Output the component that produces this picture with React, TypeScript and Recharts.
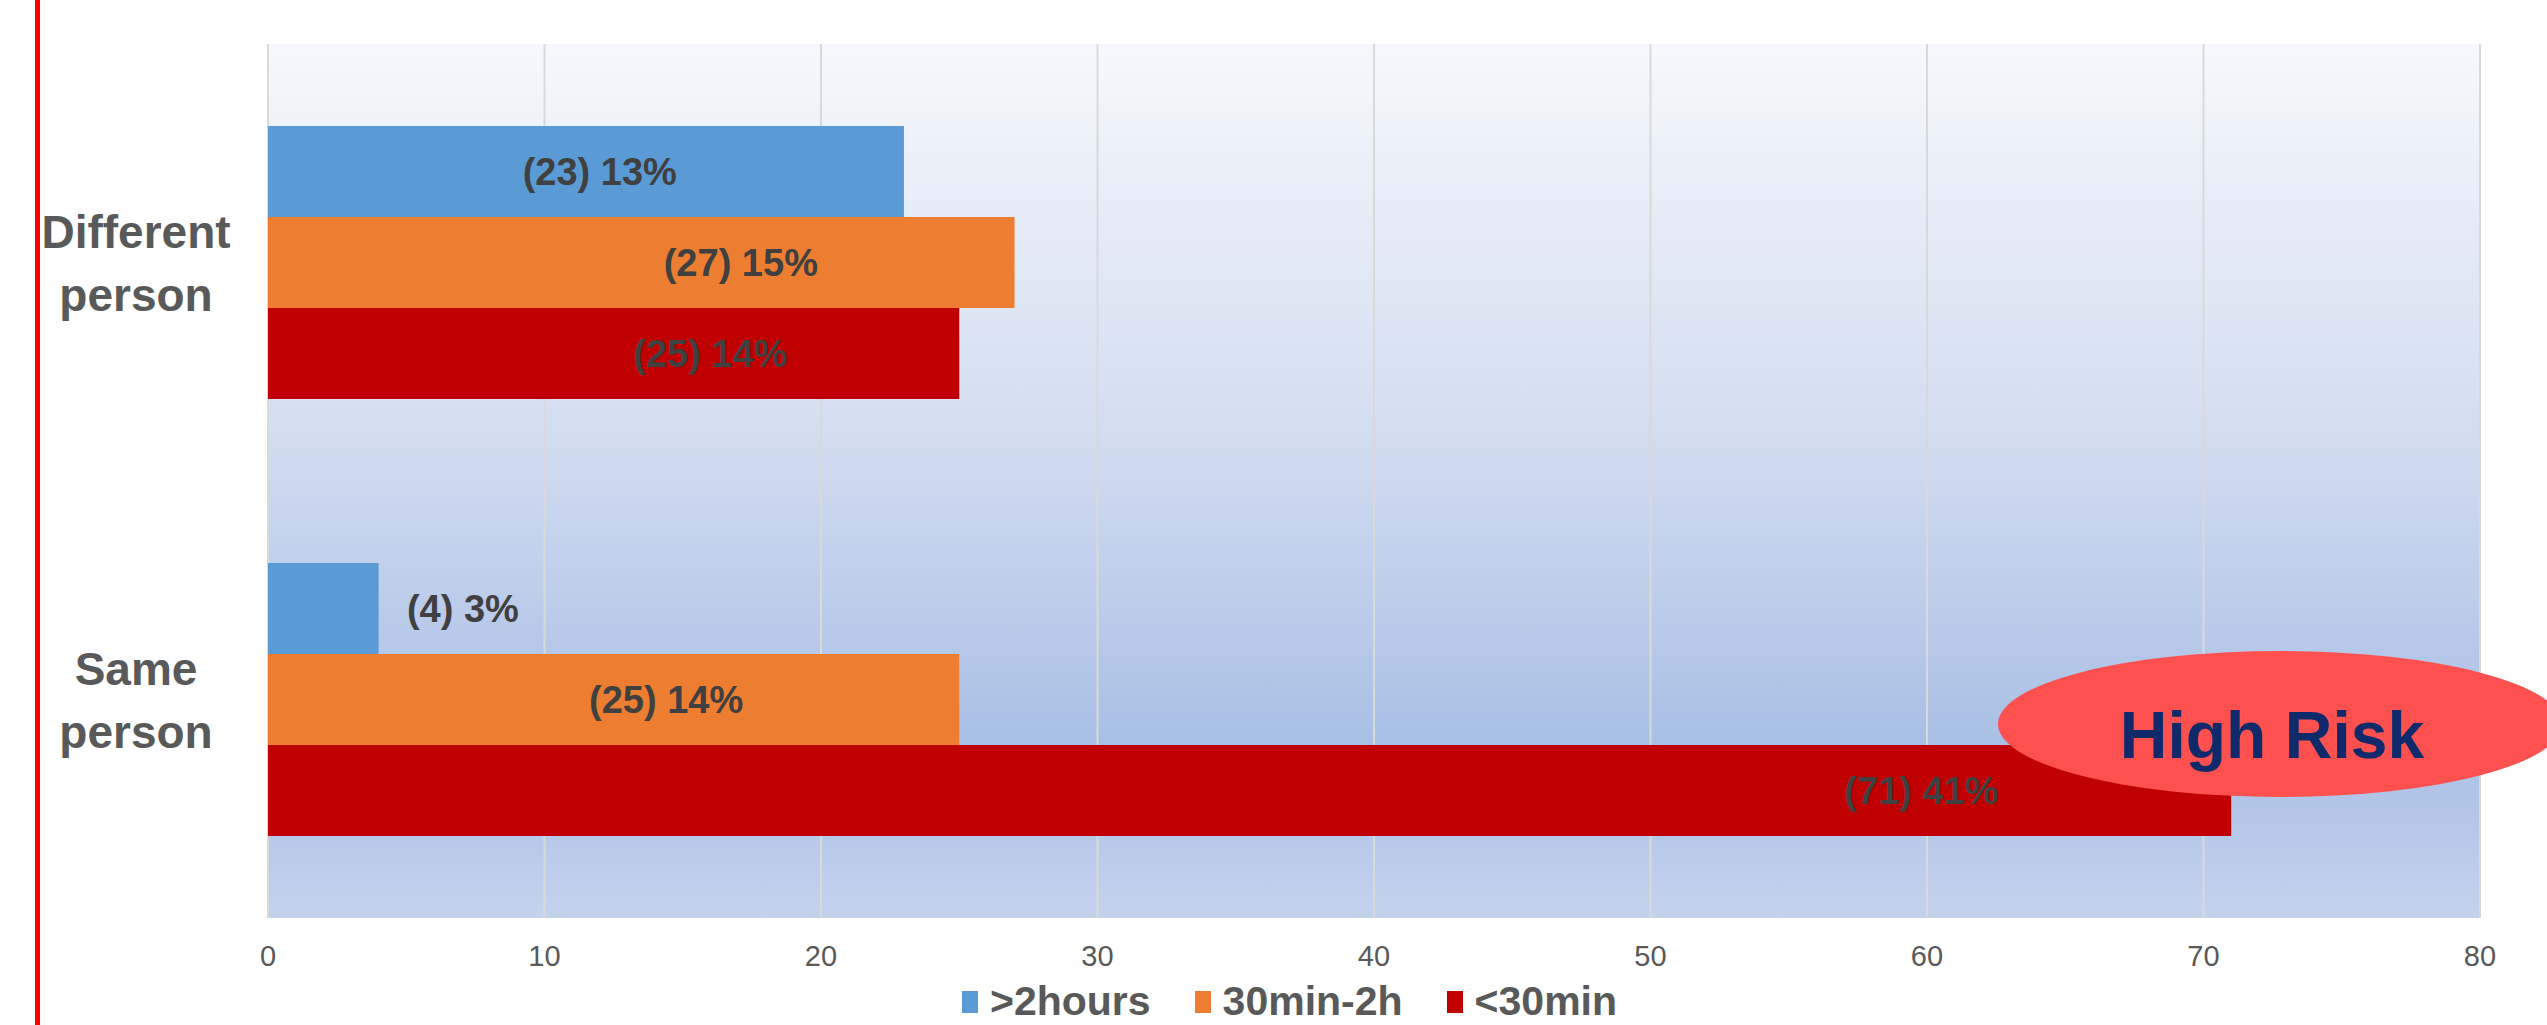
import React from "react";
import {
  BarChart,
  Bar,
  XAxis,
  YAxis,
  CartesianGrid,
  Legend,
  LabelList,
} from "recharts";

// Categories and series values
const categories = ["Different person", "Same person"];
const over2hCount = [23, 4];
const over2hPct = [13, 3];
const midCount = [27, 25];
const midPct = [15, 14];
const under30Count = [25, 71];
const under30Pct = [14, 41];
const xTicks = [0, 10, 20, 30, 40, 50, 60, 70, 80];

// Where each label sits, in axis units (they were moved by hand in the original)
const over2hLabelAt = [12.0, 7.05];
const midLabelAt = [17.1, 14.4];
const under30LabelAt = [16.0, 59.8];

const SERIES = [
  { key: "over2h", name: ">2hours", color: "#5b9bd5", pct: over2hPct, at: over2hLabelAt },
  { key: "mid", name: "30min-2h", color: "#ed7d31", pct: midPct, at: midLabelAt },
  { key: "under30", name: "<30min", color: "#c00000", pct: under30Pct, at: under30LabelAt },
];

const data = categories.map((name, i) => ({
  name,
  over2h: over2hCount[i],
  mid: midCount[i],
  under30: under30Count[i],
}));

const TEXT = "#595959";
const SANS = "'Liberation Sans', Arial, sans-serif";

const makeLabel = (pct: number[], at: number[]) => (props: any) => {
  const { x, y, width, height, index, value } = props;
  if (!value) return null;
  const cx = x + (at[index] * width) / value;
  return (
    <text
      x={cx}
      y={y + height / 2}
      textAnchor="middle"
      dominantBaseline="central"
      fill="#404040"
      fontFamily={SANS}
      fontWeight="bold"
      fontSize={38}
    >
      ({value}) {pct[index]}%
    </text>
  );
};

const CategoryTick = (props: any) => {
  const { y, payload } = props;
  const lines = String(payload.value).split(" ");
  return (
    <text
      textAnchor="middle"
      fill={TEXT}
      fontFamily={SANS}
      fontWeight="bold"
      fontSize={46}
      dominantBaseline="central"
    >
      {lines.map((l, i) => (
        <tspan key={i} x={136} y={y + (i === 0 ? -31 : 32)}>
          {l}
        </tspan>
      ))}
    </text>
  );
};

const renderLegend = () => (
  <div
    style={{
      display: "flex",
      justifyContent: "center",
      alignItems: "center",
      paddingLeft: 32,
      height: 47,
      fontFamily: SANS,
      fontWeight: "bold",
      fontSize: 41,
      color: TEXT,
    }}
  >
    {SERIES.map((s) => (
      <div key={s.key} style={{ display: "flex", alignItems: "center", margin: "0 22px" }}>
        <span
          style={{
            display: "inline-block",
            width: 16,
            height: 22,
            background: s.color,
            marginRight: 12,
          }}
        />
        <span>{s.name}</span>
      </div>
    ))}
  </div>
);

export default function App() {
  return (
    <div
      style={{
        position: "absolute",
        left: 0,
        top: 0,
        width: 2547,
        height: 1025,
        background: "#ffffff",
        overflow: "hidden",
      }}
    >
      <BarChart
        width={2547}
        height={1025}
        data={data}
        layout="vertical"
        margin={{ top: 44, right: 67, left: 0, bottom: 0 }}
        barSize={91}
        barGap={0}
      >
        <defs>
          <linearGradient id="plotBg" x1="0" y1="0" x2="0" y2="1">
            <stop offset="0%" stopColor="#f6f8fc" />
            <stop offset="45%" stopColor="#d2ddf0" />
            <stop offset="80%" stopColor="#a9bfe5" />
            <stop offset="100%" stopColor="#c4d2ed" />
          </linearGradient>
        </defs>
        <CartesianGrid
          horizontal={false}
          stroke="#d9d9d9"
          strokeWidth={2}
          fill="url(#plotBg)"
          fillOpacity={1}
        />
        <XAxis
          type="number"
          domain={[0, 80]}
          ticks={xTicks}
          axisLine={false}
          tickLine={false}
          tickSize={0}
          tickMargin={27}
          height={60}
          tick={{ fill: TEXT, fontSize: 29, fontFamily: SANS }}
        />
        <YAxis
          type="category"
          dataKey="name"
          width={268}
          axisLine={false}
          tickLine={false}
          tick={<CategoryTick />}
        />
        <Legend verticalAlign="bottom" height={47} content={renderLegend} wrapperStyle={{ left: 0, width: 2547 }} />
        {SERIES.map((s) => (
          <Bar key={s.key} dataKey={s.key} name={s.name} fill={s.color} isAnimationActive={false}>
            <LabelList dataKey={s.key} content={makeLabel(s.pct, s.at)} />
          </Bar>
        ))}
      </BarChart>

      {/* left red rule and the "High Risk" callout sit on top of the chart */}
      <svg
        width={2547}
        height={1025}
        style={{ position: "absolute", left: 0, top: 0, pointerEvents: "none" }}
      >
        <rect x={35} y={0} width={5} height={1025} fill="#ff0000" />
        <ellipse cx={2280} cy={724} rx={282} ry={73} fill="#ff5050" />
        <text
          x={2272}
          y={735}
          textAnchor="middle"
          dominantBaseline="central"
          fill="#0f2a6b"
          fontFamily={SANS}
          fontWeight="bold"
          fontSize={66}
        >
          High Risk
        </text>
      </svg>
    </div>
  );
}
